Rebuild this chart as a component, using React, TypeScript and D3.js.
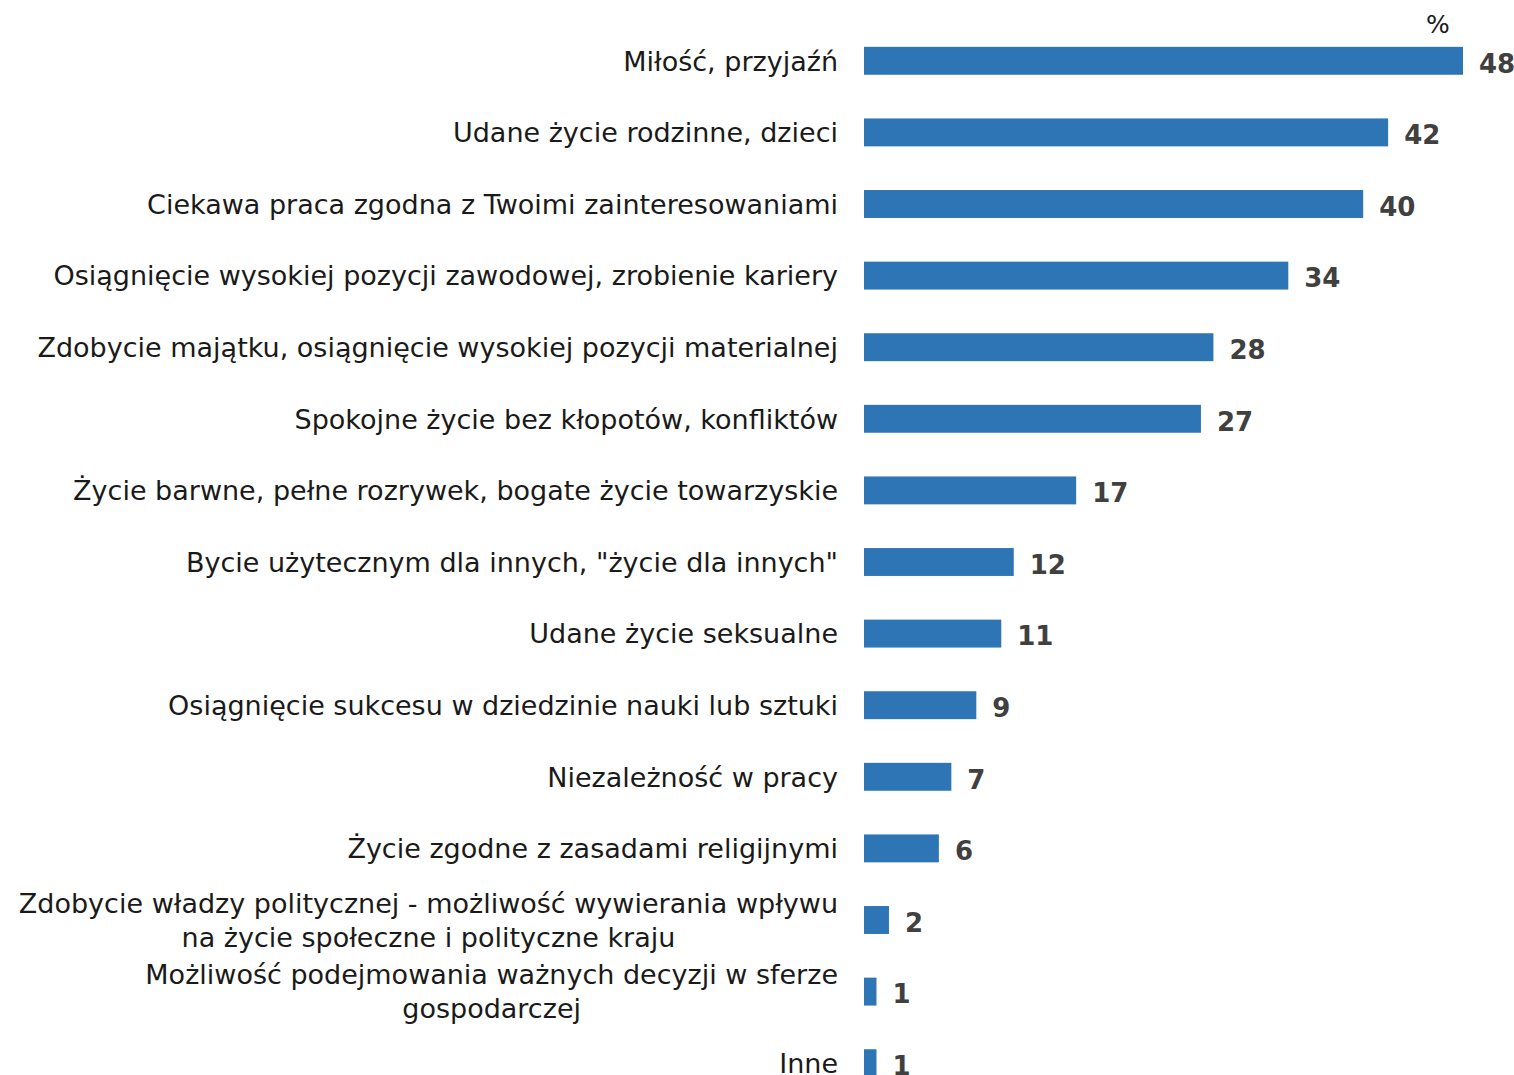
import React from "react";
import * as d3 from "d3";

const categories: string[][] = [
  ["Miłość, przyjaźń"],
  ["Udane życie rodzinne, dzieci"],
  ["Ciekawa praca zgodna z Twoimi zainteresowaniami"],
  ["Osiągnięcie wysokiej pozycji zawodowej, zrobienie kariery"],
  ["Zdobycie majątku, osiągnięcie wysokiej pozycji materialnej"],
  ["Spokojne życie bez kłopotów, konfliktów"],
  ["Życie barwne, pełne rozrywek, bogate życie towarzyskie"],
  ["Bycie użytecznym dla innych, \"życie dla innych\""],
  ["Udane życie seksualne"],
  ["Osiągnięcie sukcesu w dziedzinie nauki lub sztuki"],
  ["Niezależność w pracy"],
  ["Życie zgodne z zasadami religijnymi"],
  ["Zdobycie władzy politycznej - możliwość wywierania wpływu", "na życie społeczne i polityczne kraju"],
  ["Możliwość podejmowania ważnych decyzji w sferze", "gospodarczej"],
  ["Inne"],
];
const values: number[] = [48, 42, 40, 34, 28, 27, 17, 12, 11, 9, 7, 6, 2, 1, 1];
const unitLabel = "%";

const W = 1514;
const H = 1075;
const FONT = "'DejaVu Sans', sans-serif";
const LABEL_SIZE = 27;

let ctx: CanvasRenderingContext2D | null = null;
function measure(t: string): number {
  if (!ctx) ctx = document.createElement("canvas").getContext("2d");
  if (!ctx) return t.length * LABEL_SIZE * 0.55;
  ctx.font = `${LABEL_SIZE}px 'DejaVu Sans'`;
  return ctx.measureText(t).width;
}

export default function App() {
  const x = d3.scaleLinear().domain([0, 48]).range([864, 1463]);
  const y = d3
    .scaleBand<number>()
    .domain(d3.range(values.length))
    .range([25, 25 + 71.6 * values.length])
    .paddingInner(0.61)
    .paddingOuter(0.305);
  const bh = y.bandwidth();
  const labelRight = 838;

  return (
    <svg
      width={W}
      height={H}
      style={{ position: "absolute", left: 0, top: 0, background: "#fff" }}
      fontFamily={FONT}
    >
      <text x={1438} y={33} fontSize={25} textAnchor="middle" fill="#1a1a1a">
        {unitLabel}
      </text>
      {values.map((v, i) => {
        const cy = (y(i) as number) + bh / 2;
        const lines = categories[i];
        const lh = 34;
        const maxW = Math.max(...lines.map(measure));
        const center = labelRight - maxW / 2;
        return (
          <g key={i}>
            <rect x={x(0)} y={y(i)} width={x(v) - x(0)} height={bh} fill="#2e75b6" />
            <text
              x={x(v) + 16}
              y={cy}
              dy="0.45em"
              fontSize={26}
              fontWeight="bold"
              fill="#404040"
            >
              {v}
            </text>
            {lines.map((t, j) => (
              <text
                key={j}
                x={lines.length === 1 ? labelRight : center}
                y={cy + (j - (lines.length - 1) / 2) * lh}
                dy="0.36em"
                fontSize={LABEL_SIZE}
                textAnchor={lines.length === 1 ? "end" : "middle"}
                fill="#1a1a1a"
              >
                {t}
              </text>
            ))}
          </g>
        );
      })}
    </svg>
  );
}
